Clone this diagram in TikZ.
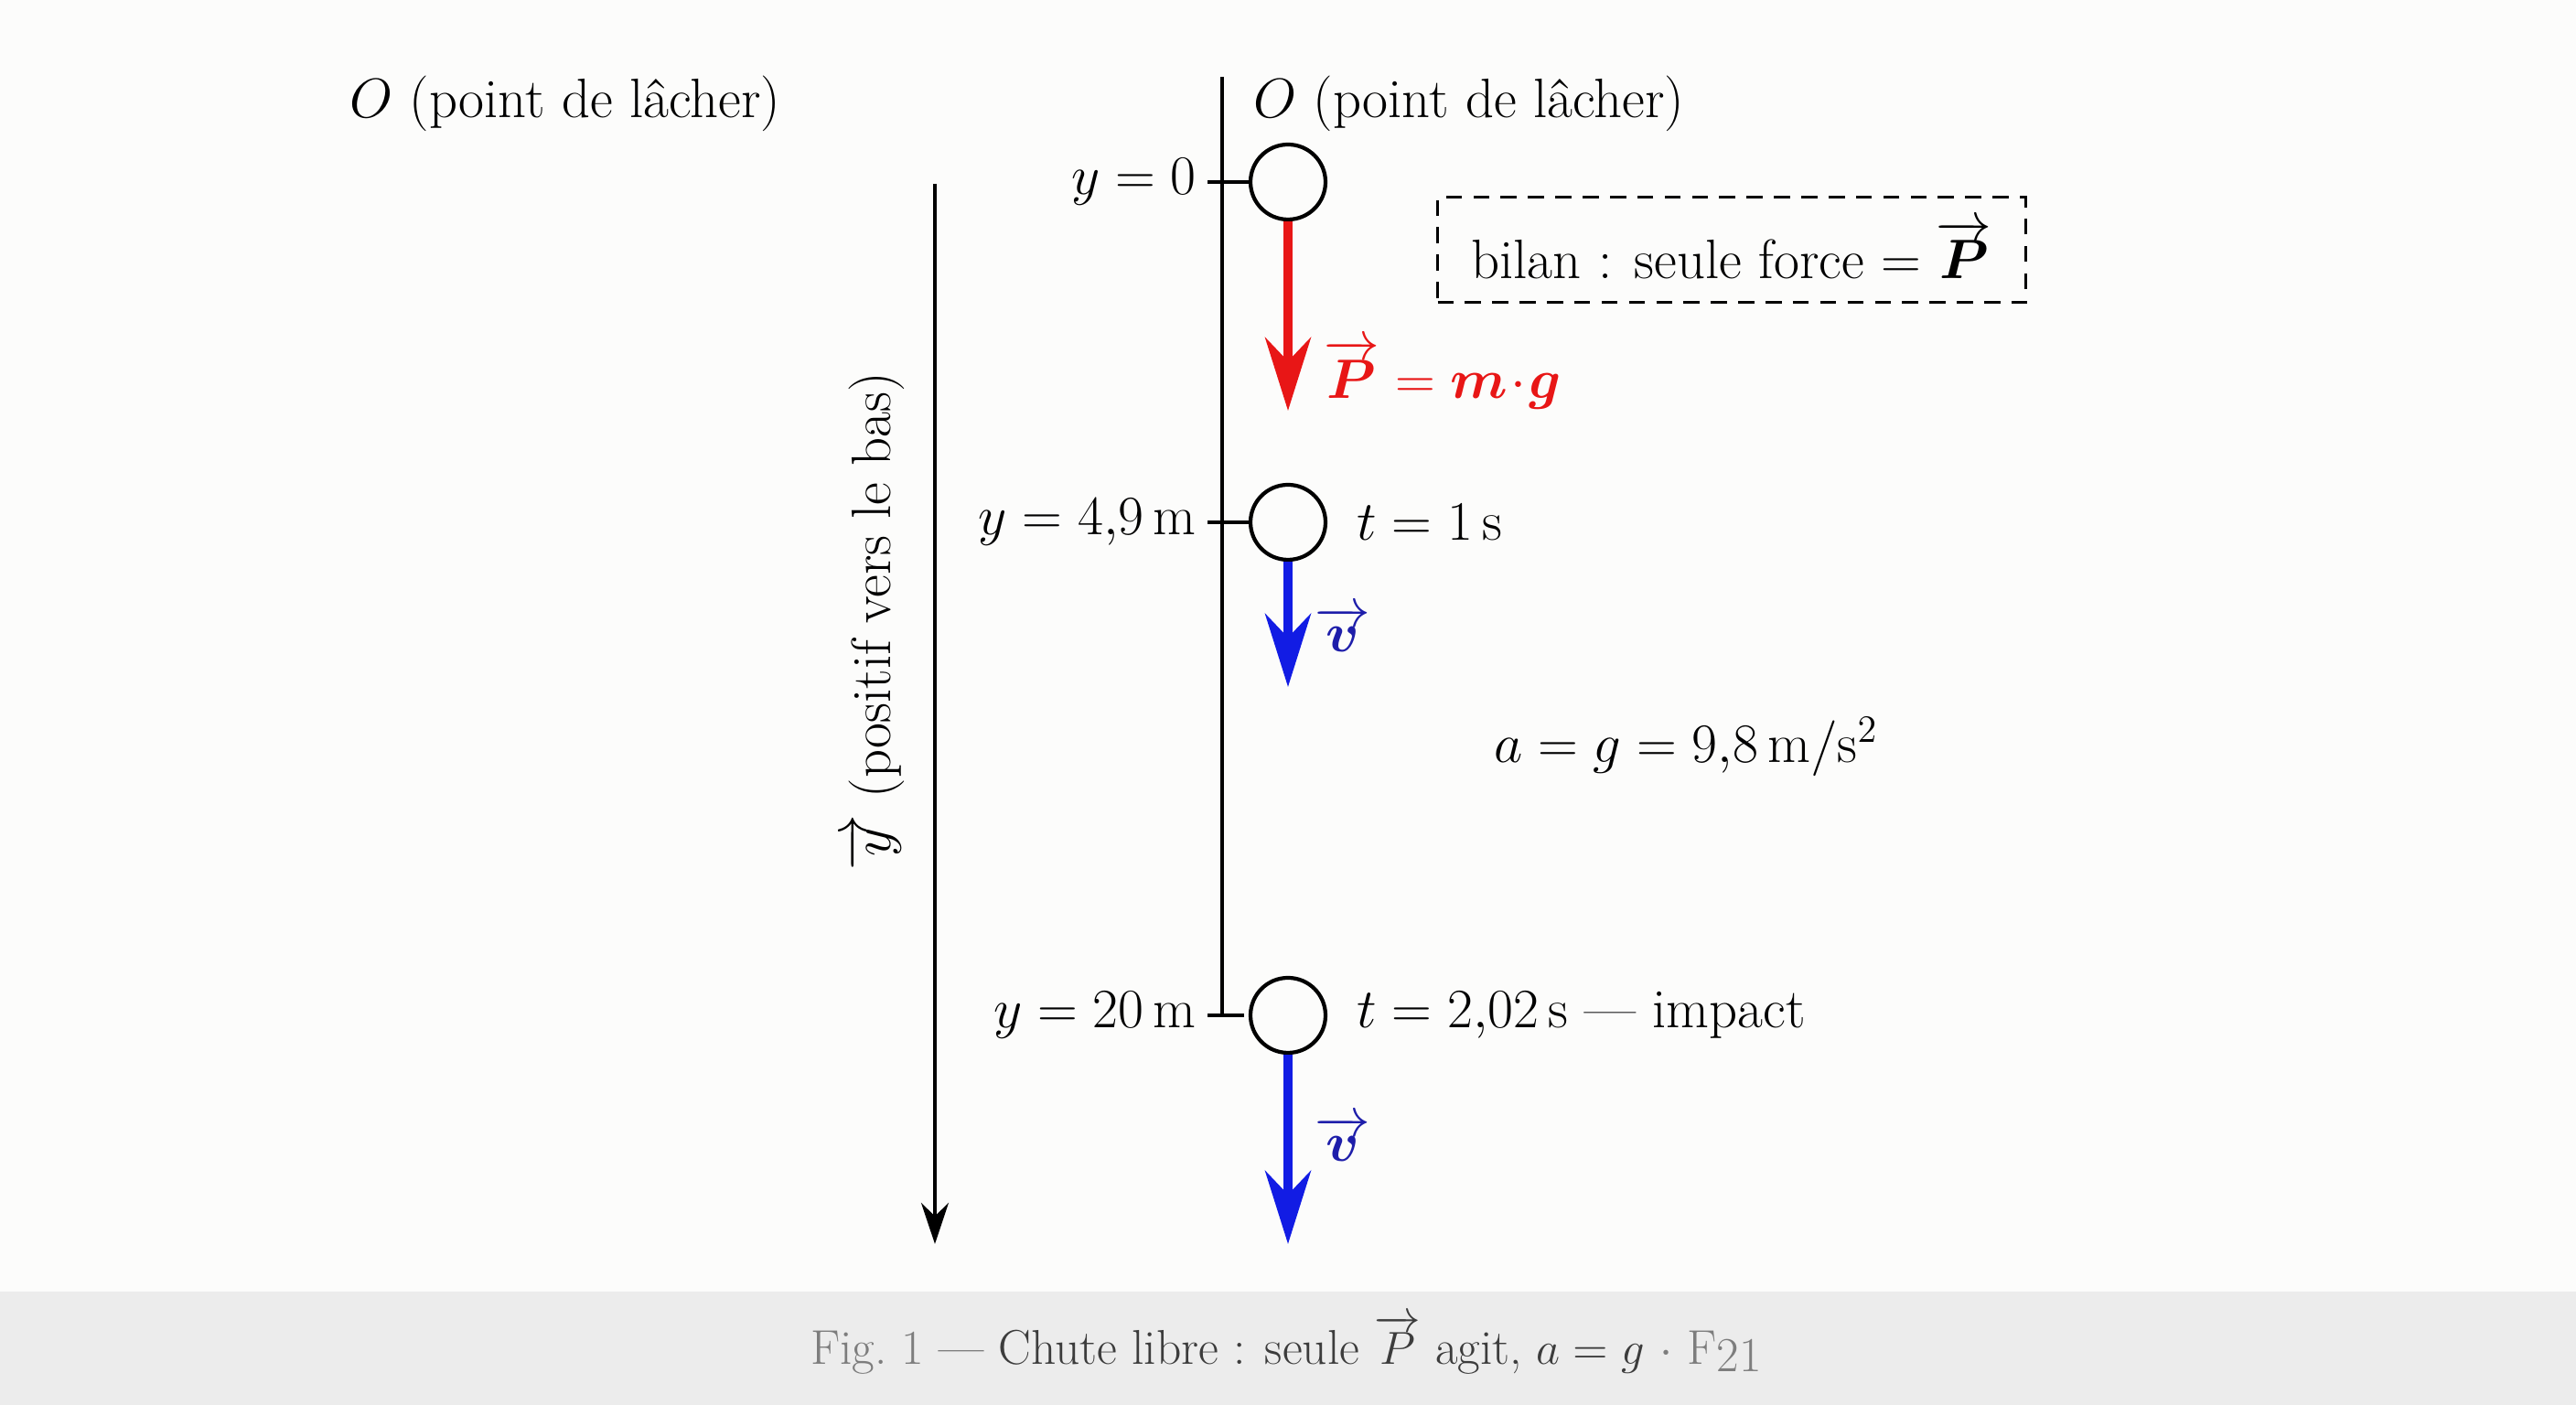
\documentclass[tikz,border=0pt]{standalone}
\usepackage{amsmath}
\usepackage{bm}
\usetikzlibrary{arrows.meta,positioning}
\definecolor{paper}{RGB}{252,252,251}
\definecolor{capbar}{RGB}{236,236,236}
\definecolor{capdark}{RGB}{60,60,60}
\definecolor{caplight}{RGB}{125,125,125}
\definecolor{forcered}{RGB}{232,22,22}
\definecolor{speedblue}{RGB}{18,28,228}
\definecolor{labelblue}{RGB}{30,30,170}

\begin{document}
\begin{tikzpicture}[>={Stealth[length=4.5mm,width=3mm]},font=\LARGE,
    ball/.style={circle,draw,line width=1.2pt,minimum size=8.2mm,inner sep=0pt},
    vecarrow/.style={-{Stealth[length=8mm,width=5mm]},line width=2.6pt},
    axisline/.style={line width=1pt}]
  \fill[paper] (0,1.24) rectangle (28.16,15.36);
  \fill[capbar] (0,0) rectangle (28.16,1.24);
  \useasboundingbox (0,0) rectangle (28.16,15.36);

  \node[ball] (b0) at (14.08,13.37) {};
  \node[ball] (b1) at (14.08,9.65) {};
  \node[ball] (b2) at (14.08,4.26) {};

  \coordinate (otop) at (13.36,14.52);
  \coordinate (obot) at (13.36,4.26);
  \draw[axisline] (otop) -- (obot);

  \coordinate (k0) at (13.20,13.37);
  \coordinate (k1) at (13.20,9.65);
  \coordinate (k2) at (13.20,4.26);
  \draw[axisline] (k0) -- (b0.west);
  \draw[axisline] (k1) -- (b1.west);
  \draw[axisline] (k2) -- ++(0.40,0);

  \node[left=0pt of k0] (y0) {$y=0$};
  \node[left=0pt of k1] (y1) {$y=4{,}9\,\mathrm{m}$};
  \node[left=0pt of k2] (y2) {$y=20\,\mathrm{m}$};

  \node[anchor=west] (o0) at (3.70,14.23) {$O$ (point de lâcher)};
  \node[anchor=west] (o1) at (13.58,14.23) {$O$ (point de lâcher)};

  \node[draw,dashed,line width=1pt,dash pattern=on 5pt off 3.5pt,
        minimum width=6.43cm,minimum height=1.15cm] (bilan) at (18.93,12.63)
        {bilan : seule force $=\overrightarrow{\bm{P}}$};

  \coordinate (p0) at (14.08,10.87);
  \draw[vecarrow,forcered] (b0) -- (p0);
  \node[text=forcered,anchor=west] (pw) at (14.35,11.27) {$\overrightarrow{\bm{P}}=\bm{m}\!\cdot\!\bm{g}$};

  \node[right=2mm of b1] (t1) {$t=1\,\mathrm{s}$};
  \coordinate (v1) at (14.08,7.85);
  \draw[vecarrow,speedblue] (b1) -- (v1);
  \node[text=labelblue] (vl1) at (14.68,8.48) {$\overrightarrow{\bm{v}}$};

  \node (acc) at (18.43,7.19) {$a=g=9{,}8\,\mathrm{m/s^2}$};

  \node[right=2mm of b2] (t2) {$t=2{,}02\,\mathrm{s}$ --- impact};
  \coordinate (v2) at (14.08,1.76);
  \draw[vecarrow,speedblue] (b2) -- (v2);
  \node[text=labelblue] (vl2) at (14.68,2.91) {$\overrightarrow{\bm{v}}$};

  \coordinate (ytop) at (10.22,13.35);
  \coordinate (ybot) at (10.22,1.76);
  \draw[->,axisline] (ytop) -- (ybot);
  \node[rotate=90] (ylab) at (9.57,8.57) {$\overrightarrow{y}$ (positif vers le bas)};

  \node[font=\fontsize{15.2}{18}\selectfont] (cap) at (14.06,0.66) {\textcolor{caplight}{Fig.~1} \textcolor{capdark}{--- Chute libre : seule $\overrightarrow{P}$ agit, $a=g$} \textcolor{caplight}{$\cdot$ F\raisebox{-.35ex}{21}}};
\end{tikzpicture}
\end{document}
